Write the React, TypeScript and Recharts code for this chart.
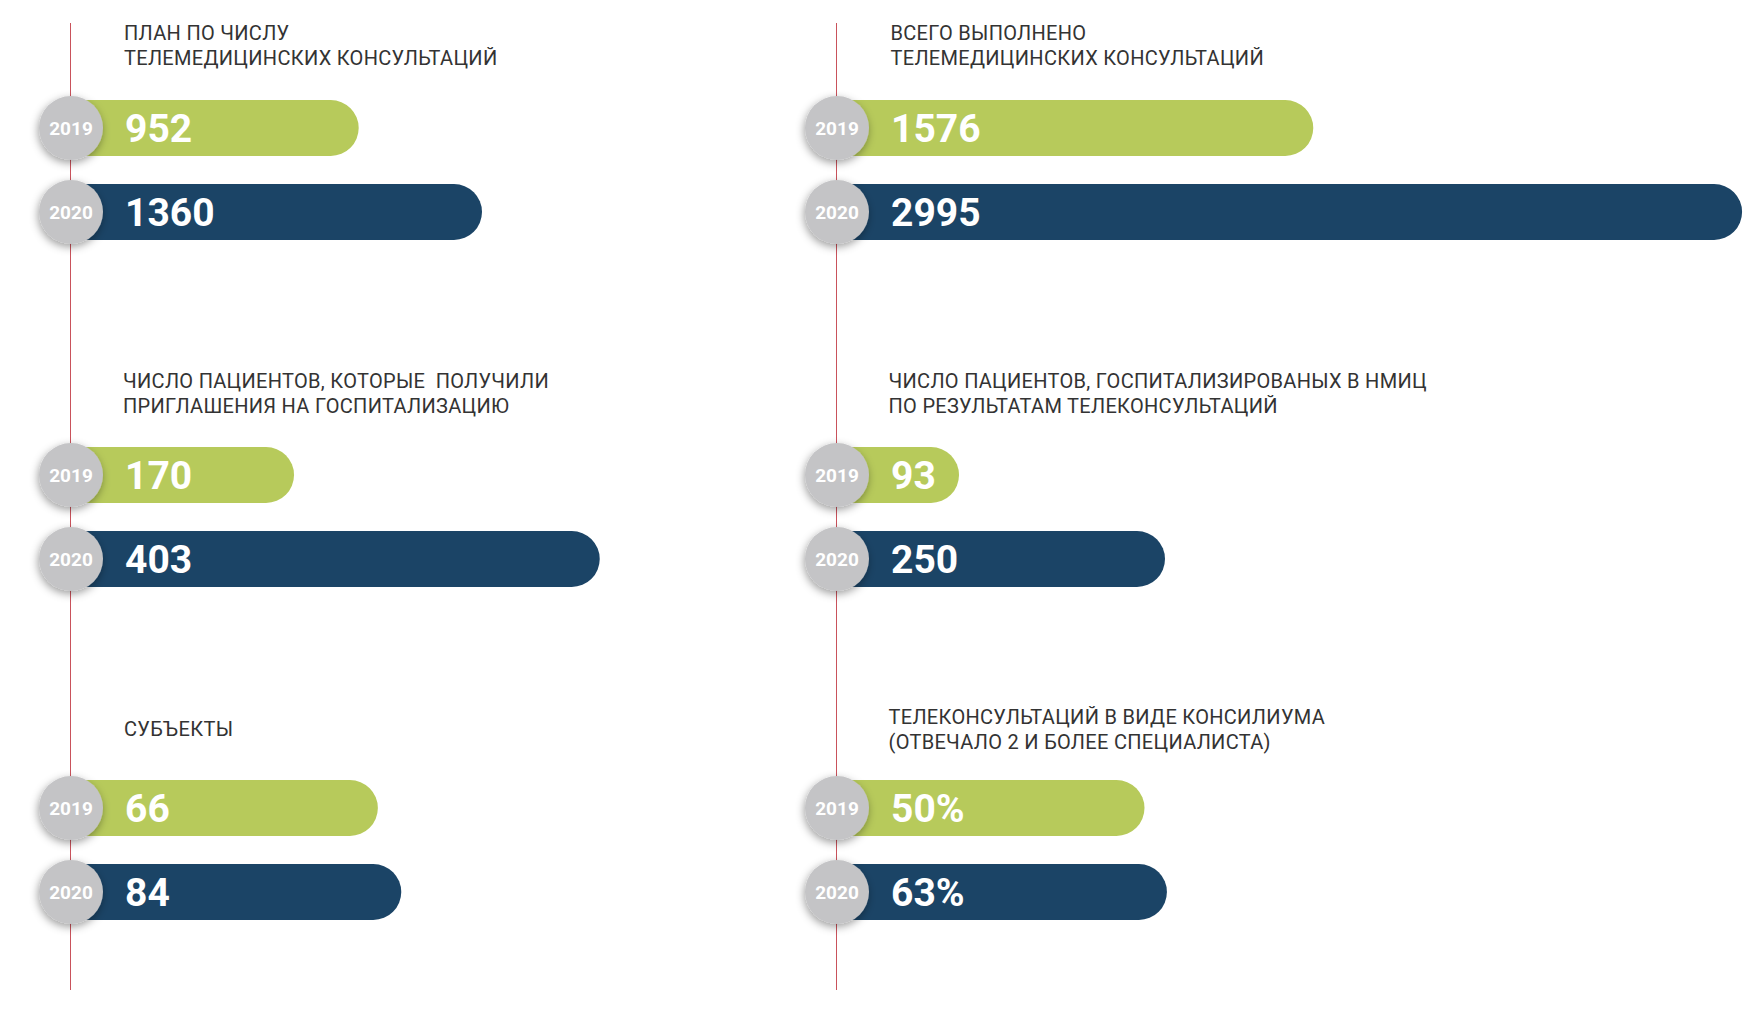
import React from 'react';
import { BarChart, Bar, XAxis, YAxis, Cell, LabelList } from 'recharts';

const years = ['2019', '2020'];

const planValues = [952, 1360];
const doneValues = [1576, 2995];
const invitedValues = [170, 403];
const hospitalizedValues = [93, 250];
const subjectsValues = [66, 84];
const councilValues = [50, 63];

const titlePlan = ['ПЛАН ПО ЧИСЛУ', 'ТЕЛЕМЕДИЦИНСКИХ КОНСУЛЬТАЦИЙ'];
const titleDone = ['ВСЕГО ВЫПОЛНЕНО', 'ТЕЛЕМЕДИЦИНСКИХ КОНСУЛЬТАЦИЙ'];
const titleInvited = ['ЧИСЛО ПАЦИЕНТОВ, КОТОРЫЕ  ПОЛУЧИЛИ', 'ПРИГЛАШЕНИЯ НА ГОСПИТАЛИЗАЦИЮ'];
const titleHosp = ['ЧИСЛО ПАЦИЕНТОВ, ГОСПИТАЛИЗИРОВАНЫХ В НМИЦ', 'ПО РЕЗУЛЬТАТАМ ТЕЛЕКОНСУЛЬТАЦИЙ'];
const titleSubjects = ['СУБЪЕКТЫ'];
const titleCouncil = ['ТЕЛЕКОНСУЛЬТАЦИЙ В ВИДЕ КОНСИЛИУМА', '(ОТВЕЧАЛО 2 И БОЛЕЕ СПЕЦИАЛИСТА)'];

const barColors = ['#b7ca5b', '#1b4466'];
const circleColor = '#c4c4c6';
const lineColor = '#c9525b';
const titleColor = '#333333';
const FONT = 'Roboto, "Noto Sans", sans-serif';

const LEFT_X = 70.7;
const RIGHT_X = 836.7;
const MARGIN_L = 45;
const MARGIN_R = 12;
const MARGIN_V = 10;
const CHART_H = 188;
const BAR_SIZE = 56;

type Panel = {
  key: string;
  title: string[];
  values: number[];
  suffix: string;
  lineX: number;
  top: number;
  titleTop: number;
  titleX: number;
  plotW: number;
  scale: 'linear' | 'log';
  domain: [number, number];
};

const linDomain = (plotW: number, pxPerUnit: number): [number, number] => [0, plotW / pxPerUnit];
const logDomain = (plotW: number, pxPerLn: number, d0: number): [number, number] => [d0, d0 * Math.exp(plotW / pxPerLn)];

const LW = 700;
const RW = 910;

const panels: Panel[] = [
  { key: 'p1', title: titlePlan, values: planValues, suffix: '', lineX: LEFT_X, top: 75.8, titleTop: 20.8, titleX: 124, plotW: LW, scale: 'linear', domain: linDomain(LW, 0.3022) },
  { key: 'p2', title: titleDone, values: doneValues, suffix: '', lineX: RIGHT_X, top: 75.8, titleTop: 20.8, titleX: 890.5, plotW: RW, scale: 'linear', domain: linDomain(RW, 0.3022) },
  { key: 'p3', title: titleInvited, values: invitedValues, suffix: '', lineX: LEFT_X, top: 422.5, titleTop: 369.2, titleX: 123, plotW: LW, scale: 'linear', domain: linDomain(LW, 1.312) },
  { key: 'p4', title: titleHosp, values: hospitalizedValues, suffix: '', lineX: RIGHT_X, top: 422.5, titleTop: 369.2, titleX: 888.5, plotW: RW, scale: 'linear', domain: linDomain(RW, 1.312) },
  { key: 'p5', title: titleSubjects, values: subjectsValues, suffix: '', lineX: LEFT_X, top: 755.8, titleTop: 716.8, titleX: 124, plotW: LW, scale: 'log', domain: logDomain(LW, 97, 2.79) },
  { key: 'p6', title: titleCouncil, values: councilValues, suffix: '%', lineX: RIGHT_X, top: 755.8, titleTop: 705, titleX: 888.5, plotW: RW, scale: 'log', domain: logDomain(RW, 97, 2.1) },
];

const getBox = (p: any) => {
  const vb = p.viewBox || {};
  return {
    x: Number(vb.x ?? p.x),
    y: Number(vb.y ?? p.y),
    w: Number(vb.width ?? p.width),
    h: Number(vb.height ?? p.height),
  };
};

const makeYearLabel = (pid: string) => (p: any) => {
  const { x, y, h } = getBox(p);
  const cy = y + h / 2;
  const fid = `sh-${pid}`;
  return (
    <g>
      <defs>
        <filter id={fid} x="-50%" y="-50%" width="200%" height="200%">
          <feDropShadow dx="-1" dy="3" stdDeviation="4" floodColor="#000" floodOpacity="0.38" />
        </filter>
      </defs>
      <circle cx={x} cy={cy} r={32} fill={circleColor} filter={`url(#${fid})`} />
      <text x={x} y={cy + 6.8} textAnchor="middle" fill="#ffffff" fontFamily={FONT} fontWeight={700} fontSize={19}>
        {p.value}
      </text>
    </g>
  );
};

const ValueLabel = (p: any) => {
  const { x, y, h } = getBox(p);
  const cy = y + h / 2;
  return (
    <text x={x + 54} y={cy + 13.8} fill="#ffffff" fontFamily={FONT} fontWeight={700} fontSize={39}>
      {p.value}
    </text>
  );
};

function PanelChart({ cfg }: { cfg: Panel }) {
  const data = years.map((yr, i) => ({
    year: yr,
    value: cfg.values[i],
    display: `${cfg.values[i]}${cfg.suffix}`,
  }));
  const width = MARGIN_L + cfg.plotW + MARGIN_R;
  return (
    <>
      <div
        style={{
          position: 'absolute',
          left: cfg.titleX,
          top: cfg.titleTop,
          fontFamily: FONT,
          fontSize: 20,
          letterSpacing: '0.3px',
          lineHeight: '25px',
          color: titleColor,
          whiteSpace: 'pre',
        }}
      >
        {cfg.title.map((t) => (
          <div key={t}>{t}</div>
        ))}
      </div>
      <div style={{ position: 'absolute', left: cfg.lineX - MARGIN_L, top: cfg.top }}>
        <BarChart
          width={width}
          height={CHART_H}
          data={data}
          layout="vertical"
          margin={{ top: MARGIN_V, bottom: MARGIN_V, left: MARGIN_L, right: MARGIN_R }}
        >
          <XAxis type="number" hide scale={cfg.scale} domain={cfg.domain} allowDataOverflow />
          <YAxis type="category" dataKey="year" hide />
          <Bar dataKey="value" barSize={BAR_SIZE} radius={[0, 28, 28, 0]} isAnimationActive={false}>
            {data.map((d, i) => (
              <Cell key={d.year} fill={barColors[i]} />
            ))}
            <LabelList dataKey="year" content={makeYearLabel(cfg.key)} />
            <LabelList dataKey="display" content={ValueLabel} />
          </Bar>
        </BarChart>
      </div>
    </>
  );
}

export default function App() {
  return (
    <div style={{ position: 'absolute', left: 0, top: 0, width: 1763, height: 1013, background: '#ffffff', overflow: 'hidden' }}>
      <div style={{ position: 'absolute', left: LEFT_X - 0.75, top: 22.5, width: 1.5, height: 967, background: lineColor }} />
      <div style={{ position: 'absolute', left: RIGHT_X - 0.75, top: 22.5, width: 1.5, height: 967, background: lineColor }} />
      {panels.map((p) => (
        <PanelChart key={p.key} cfg={p} />
      ))}
    </div>
  );
}
